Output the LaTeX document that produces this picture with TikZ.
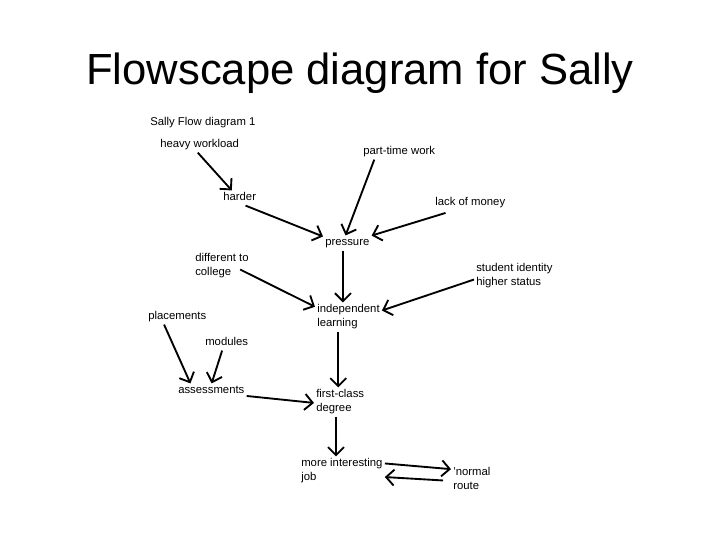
\documentclass[tikz,border=0pt]{standalone}
\usepackage{fontspec}
\setmainfont{Liberation Sans}
\usetikzlibrary{arrows.meta}

\begin{document}
\begin{tikzpicture}[x=0.75pt,y=-0.75pt,
  lbl/.style={font=\fontsize{8.5}{10.5}\selectfont,inner sep=1.5pt,anchor=west,xshift=-1.5pt,yshift=-1.5pt,text height=6.2pt,text depth=1.8pt},
  lbltwo/.style={font=\fontsize{8.5}{10.5}\selectfont,inner sep=1.5pt,anchor=west,xshift=-1.5pt,yshift=-1.5pt,align=left},
  flow/.style={-{Straight Barb[length=6pt,width=12pt]},line width=1.4pt}]
  \useasboundingbox (0,0) rectangle (720,540);
  \node[font=\fontsize{32.7}{39}\selectfont,anchor=base,inner sep=0pt] (title) at (360,84) {Flowscape diagram for Sally};
  \node[lbl] (caption) at (150,121) {Sally Flow diagram 1};
  \node[lbl] (heavy) at (160,143) {heavy workload};
  \node[lbl] (parttime) at (363,150) {part-time work};
  \node[lbl] (harder) at (223,196) {harder};
  \node[lbl] (money) at (435,201) {lack of money};
  \node[lbl] (pressure) at (325,241) {pressure};
  \node[lbltwo] (college) at (195,264) {different to\\college};
  \node[lbltwo] (identity) at (476,274) {student identity\\higher status};
  \node[lbl] (placements) at (148,315) {placements};
  \node[lbltwo] (indep) at (317,315) {independent\\learning};
  \node[lbl] (modules) at (205,341) {modules};
  \node[lbl] (assess) at (178,389) {assessments};
  \node[lbltwo] (degree) at (316,400) {first-class\\degree};
  \node[lbltwo] (job) at (301,469) {more interesting\\job};
  \node[lbltwo] (normal) at (453,476) {'normal\\route};
  \draw[flow] (heavy.-104) -- (harder.136);
  \draw[flow] (harder.-52) -- (pressure.165);
  \draw[flow] (parttime.-163) -- (pressure.103);
  \draw[flow,shorten <=6pt] (money.-156) -- (pressure.17);
  \draw[flow] (pressure.-120) -- (pressure.-120 |- indep.north);
  \draw[flow,shorten <=-9pt] (college.-17) -- (indep.163);
  \draw[flow] (identity.-175) -- (indep.11);
  \draw[flow] (placements.-150) -- (assess.160);
  \draw[flow] (modules.-121) -- (assess.88);
  \draw[flow] (indep.-125) -- (indep.-125 |- degree.north);
  \draw[flow] (assess.-8) -- (degree.182);
  \draw[flow] (degree.-106) -- (degree.-106 |- job.north);
  \draw[flow] (job.10) -- (normal.157);
  \draw[flow,shorten <=6pt] (normal.-172) -- (job.-8);
\end{tikzpicture}
\end{document}
